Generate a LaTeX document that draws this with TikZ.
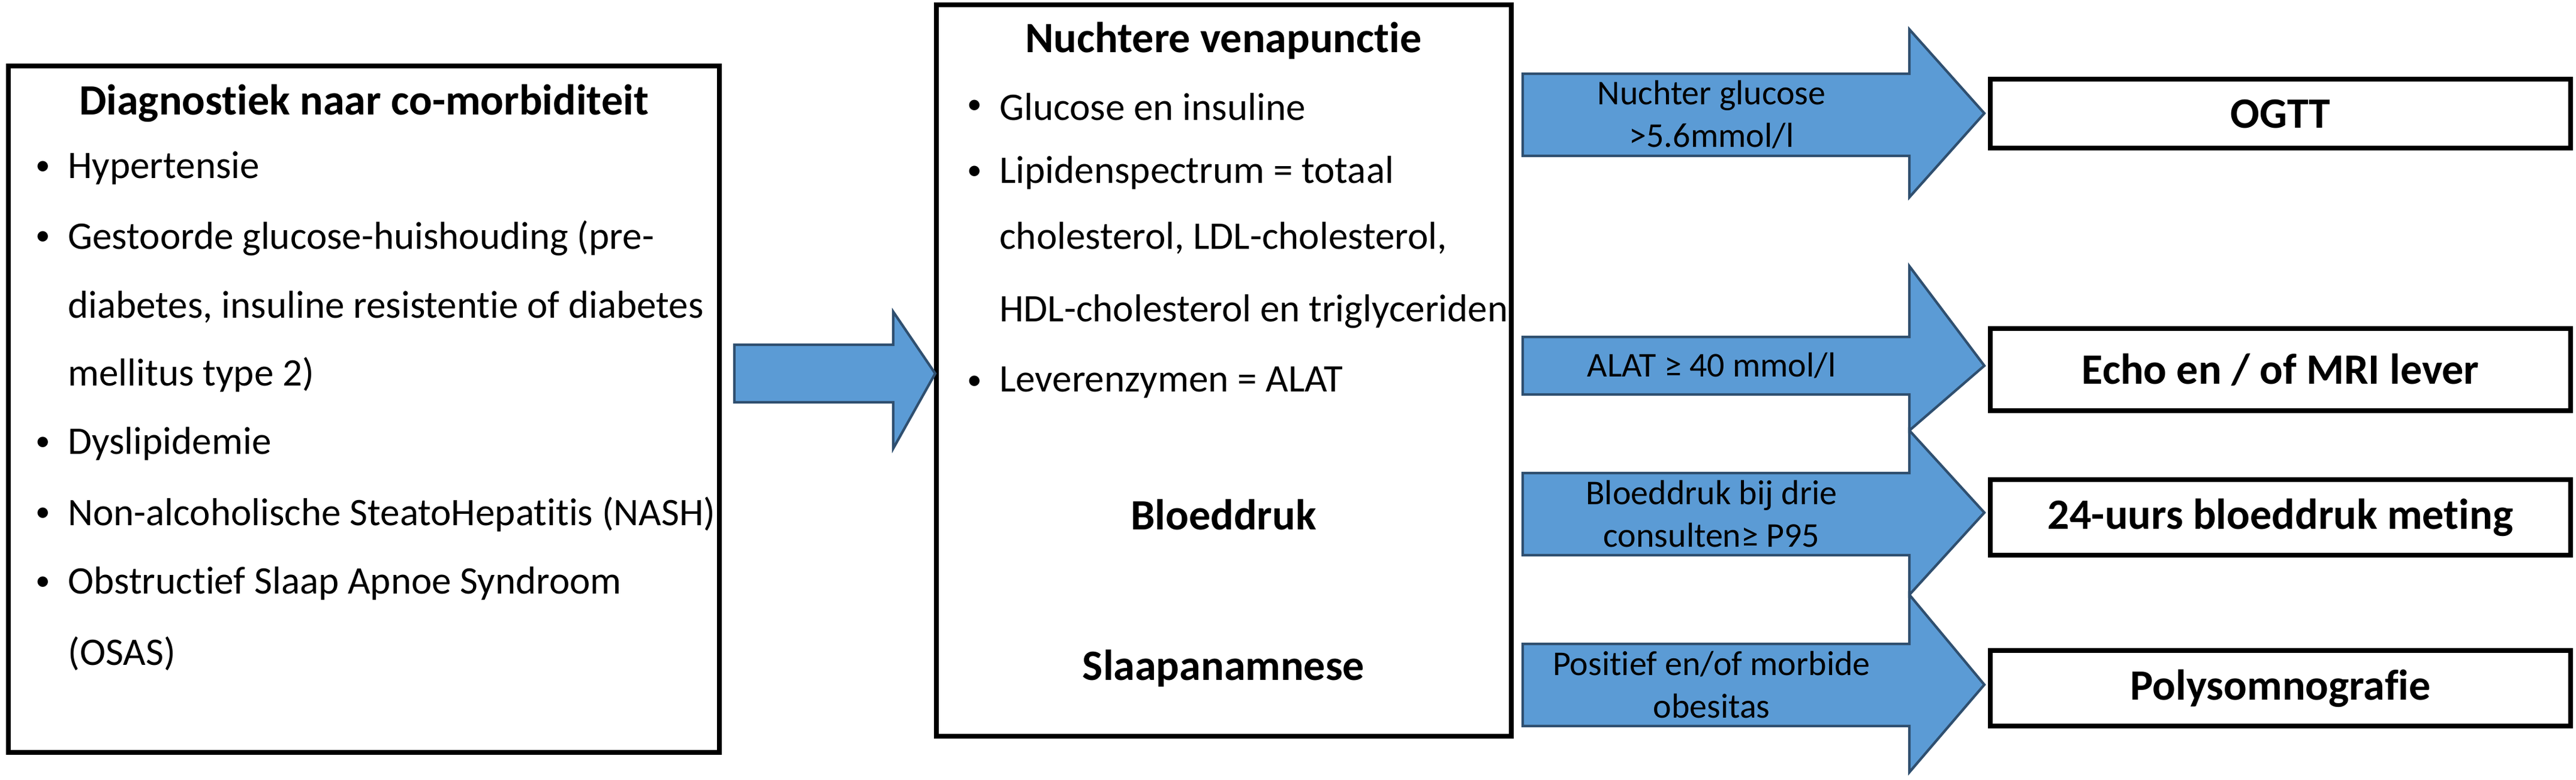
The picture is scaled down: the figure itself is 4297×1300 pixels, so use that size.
\documentclass[tikz,border=0pt]{standalone}
\usepackage{fontspec}
\setmainfont[Ligatures=NoCommon]{Carlito}
\usetikzlibrary{positioning}
\definecolor{arrowblue}{HTML}{5B9BD5}
\definecolor{arrowline}{HTML}{2F4F6F}
\tikzstyle{box} = [draw, line width=2.5pt]
\tikzstyle{bigarrow} = [fill=arrowblue, draw=arrowline, line width=1.2pt, line join=miter]
\tikzstyle{item} = [anchor=west, font=\fontsize{18.5}{22}\selectfont]
\tikzstyle{dot} = [anchor=west, font=\fontsize{14}{16}\selectfont]
\tikzstyle{title} = [font=\fontsize{20.5}{24}\selectfont\bfseries]
\tikzstyle{alabel} = [align=center, font=\fontsize{16.5}{20}\selectfont]
\tikzstyle{result} = [font=\fontsize{20.5}{24}\selectfont\bfseries]
\newcommand{\blt}[3]{\node[dot] at (#1-54,#2) {\textbullet}; \node[item] at (#1,#2) {#3};}
\begin{document}
\begin{tikzpicture}[x=0.01cm,y=-0.01cm]
    \useasboundingbox (0,0) rectangle (4297,1300);
    % left box
    \draw[box] (14,110) rectangle (1200,1255);
    \node[title] (diag) at (607,172) {Diagnostiek naar co-morbiditeit};
    \blt{101}{280}{Hypertensie}
    \blt{101}{397}{Gestoorde glucose-huishouding (pre-}
    \node[item] at (101,512) {diabetes, insuline resistentie of diabetes};
    \node[item] at (101,625) {mellitus type 2)};
    \blt{101}{740}{Dyslipidemie}
    \blt{101}{858}{Non-alcoholische SteatoHepatitis (NASH)}
    \blt{101}{973}{Obstructief Slaap Apnoe Syndroom}
    \node[item] at (101,1090) {(OSAS)};

    % middle box
    \draw[box] (1562,8) rectangle (2521,1228);
    \node[title] (venap) at (2041,68) {Nuchtere venapunctie};
    \blt{1655}{178}{Glucose en insuline}
    \blt{1655}{288}{Lipidenspectrum = totaal}
    \node[item] at (1655,397) {cholesterol, LDL-cholesterol,};
    \node[item] at (1655,520) {HDL-cholesterol en triglyceriden};
    \blt{1655}{638}{Leverenzymen = ALAT}
    \node[title] (bloed) at (2041,858) {Bloeddruk};
    \node[title] (slaap) at (2041,1115) {Slaapanamnese};

    % arrow between boxes
    \draw[bigarrow] (1225,575) -- (1490,575) -- (1490,520) -- (1560,623) -- (1490,748) -- (1490,671) -- (1225,671) -- cycle;

    % right arrows
    \draw[bigarrow] (2540,123) -- (3185,123) -- (3185,49) -- (3310,189) -- (3185,329) -- (3185,260) -- (2540,260) -- cycle;
    \node[alabel] (l1) at (2855,191) {Nuchter glucose\\>5.6mmol/l};
    \draw[bigarrow] (2540,562) -- (3185,562) -- (3185,444) -- (3310,610) -- (3185,718) -- (3185,658) -- (2540,658) -- cycle;
    \node[alabel] (l2) at (2855,610) {ALAT ≥ 40 mmol/l};
    \draw[bigarrow] (2540,789) -- (3185,789) -- (3185,718) -- (3310,855) -- (3185,992) -- (3185,926) -- (2540,926) -- cycle;
    \node[alabel] (l3) at (2855,857) {Bloeddruk bij drie\\consulten≥ P95};
    \draw[bigarrow] (2540,1074) -- (3185,1074) -- (3185,992) -- (3310,1142) -- (3185,1288) -- (3185,1211) -- (2540,1211) -- cycle;
    \node[alabel] (l4) at (2855,1142) {Positief en/of morbide\\obesitas};

    % result boxes
    \draw[box] (3320,132) rectangle (4288,247);
    \node[result] (ogtt) at (3804,190) {OGTT};
    \draw[box] (3320,548) rectangle (4288,685);
    \node[result] (echo) at (3804,617) {Echo en / of MRI lever};
    \draw[box] (3320,800) rectangle (4288,926);
    \node[result] (meting) at (3804,863) {24-uurs bloeddruk meting};
    \draw[box] (3320,1085) rectangle (4288,1211);
    \node[result] (poly) at (3804,1148) {Polysomnografie};
\end{tikzpicture}
\end{document}
